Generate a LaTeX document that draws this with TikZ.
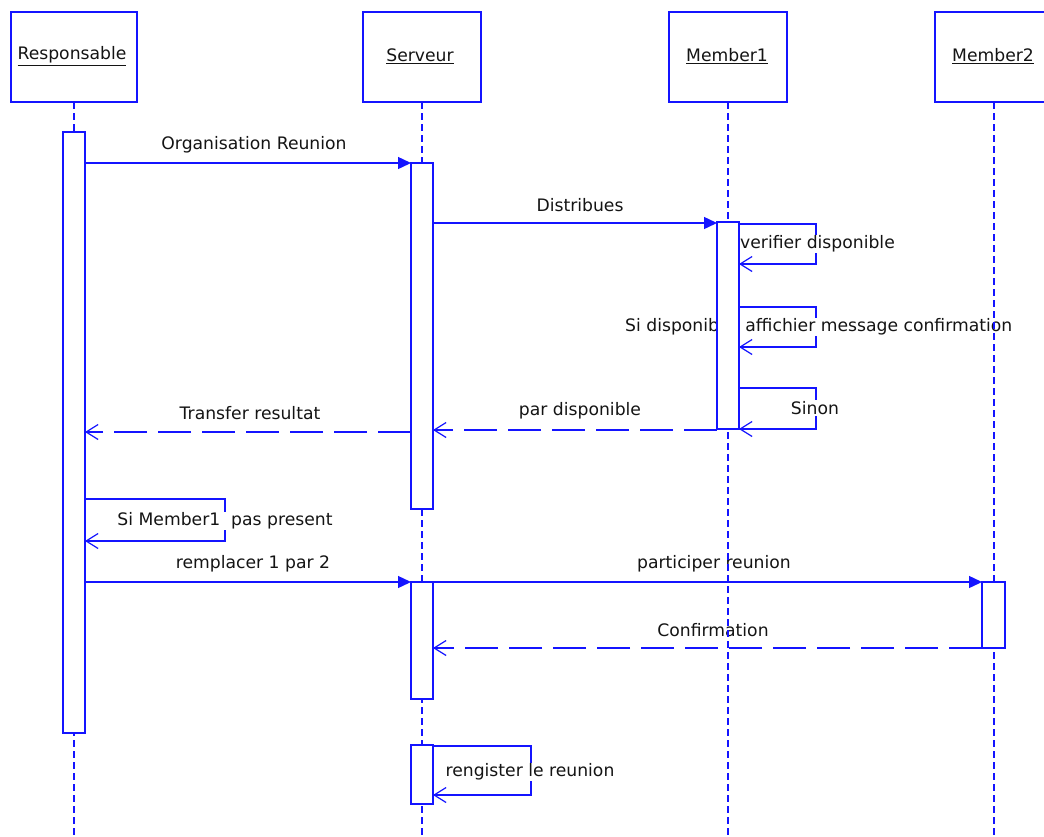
\documentclass[tikz,border=0pt]{standalone}
\usepackage{fontspec}
\setmainfont{DejaVu Sans}
\usetikzlibrary{arrows.meta}
\definecolor{umlblue}{RGB}{20,20,255}
\definecolor{umltext}{RGB}{20,20,20}
\tikzset{
  x=1pt, y=-1pt,
  every node/.style={font=\fontsize{17.2}{20}\selectfont, text=umltext},
  objbox/.style={draw=umlblue, line width=1.4pt, fill=white},
  lifeline/.style={draw=umlblue, line width=1.4pt, dash pattern=on 7pt off 4pt},
  actbar/.style={draw=umlblue, line width=1.4pt, fill=white},
  call/.style={draw=umlblue, line width=1.4pt, -{Triangle[length=13pt,width=12pt]}},
  reply/.style={draw=umlblue, line width=1.4pt, dash pattern=on 33pt off 11pt,
    -{Straight Barb[length=12pt,width=15pt,line width=1.2pt]}},
  selfcall/.style={draw=umlblue, line width=1.4pt,
    -{Straight Barb[length=12pt,width=15pt,line width=1.2pt]}},
  msglabel/.style={inner sep=1pt},
  looplabel/.style={inner sep=1pt, fill=white},
}
\begin{document}
\begin{tikzpicture}
\useasboundingbox (0,0) rectangle (1044,836);
\clip (0,0) rectangle (1044,836);
\fill[white] (0,0) rectangle (1044,836);

% object heads
\draw[objbox] (11,12) rectangle (137,102);
\draw[objbox] (363,12) rectangle (481,102);
\draw[objbox] (669,12) rectangle (787,102);
\draw[objbox] (935,12) rectangle (1053,102);
\node (resp) at (72,56) {\underline{Responsable}};
\node (serv) at (420,56) {\underline{Serveur}};
\node (mem1) at (727,56) {\underline{Member1}};
\node (mem2) at (993,56) {\underline{Member2}};

% anchor points of the lifelines
\coordinate (respTop) at (74,102);   \coordinate (respBot) at (74,836);
\coordinate (servTop) at (422,102);  \coordinate (servBot) at (422,836);
\coordinate (mem1Top) at (728,102);  \coordinate (mem1Bot) at (728,836);
\coordinate (mem2Top) at (994,102);  \coordinate (mem2Bot) at (994,836);

% message end points on the activation bars
\coordinate (m1a) at (85,163);   \coordinate (m1b) at (411,163);
\coordinate (m2a) at (433,223);  \coordinate (m2b) at (717,223);
\coordinate (m6a) at (717,430);  \coordinate (m6b) at (433,430);
\coordinate (m7a) at (411,432);  \coordinate (m7b) at (85,432);
\coordinate (m9a) at (85,582);   \coordinate (m9b) at (411,582);
\coordinate (m10a) at (433,582); \coordinate (m10b) at (982,582);
\coordinate (m11a) at (982,648); \coordinate (m11b) at (433,648);

% messages between objects
\draw[call] (m1a) -- (m1b);
\draw[call] (m2a) -- (m2b);
\draw[reply] (m6a) -- (m6b);
\draw[reply] (m7a) -- (m7b);
\draw[call] (m9a) -- (m9b);
\draw[call] (m10a) -- (m10b);
\draw[reply] (m11a) -- (m11b);

% self messages
\coordinate (s1a) at (739,224); \coordinate (s1b) at (739,264);
\draw[selfcall] (s1a) -- (816,224) -- (816,264) -- (s1b);
\coordinate (s2a) at (739,307); \coordinate (s2b) at (739,347);
\draw[selfcall] (s2a) -- (816,307) -- (816,347) -- (s2b);
\coordinate (s3a) at (739,388); \coordinate (s3b) at (739,429);
\draw[selfcall] (s3a) -- (816,388) -- (816,429) -- (s3b);
\coordinate (s4a) at (85,499); \coordinate (s4b) at (85,541);
\draw[selfcall] (s4a) -- (225,499) -- (225,541) -- (s4b);
\coordinate (s5a) at (433,746); \coordinate (s5b) at (433,795);
\draw[selfcall] (s5a) -- (531,746) -- (531,795) -- (s5b);

% message labels
\node[msglabel] (l1) at (254,145) {Organisation Reunion};
\node[msglabel] (l2) at (580,205) {Distribues};
\node[looplabel, anchor=west] (l3) at (739,244) {verifier disponible};
\node[looplabel, anchor=west] (l4) at (624,327) {Si disponible\ \ affichier message confirmation};
\node[looplabel] (l5) at (815,408) {Sinon};
\node[msglabel] (l6) at (580,411) {par disponible};
\node[msglabel] (l7) at (250,413) {Transfer resultat};
\node[looplabel] (l8) at (225,521) {Si Member1\ \ pas present};
\node[msglabel] (l9) at (253,564) {remplacer 1 par 2};
\node[msglabel] (l10) at (714,564) {participer reunion};
\node[msglabel] (l11) at (713,630) {Confirmation};
\node[looplabel] (l12) at (530,772) {rengister le reunion};

% lifelines
\draw[lifeline] (respTop) -- (respBot);
\draw[lifeline] (servTop) -- (servBot);
\draw[lifeline] (mem1Top) -- (mem1Bot);
\draw[lifeline] (mem2Top) -- (mem2Bot);

% activation bars
\draw[actbar] (63,132) rectangle (85,733);
\draw[actbar] (411,163) rectangle (433,509);
\draw[actbar] (411,582) rectangle (433,699);
\draw[actbar] (411,745) rectangle (433,804);
\draw[actbar] (717,222) rectangle (739,429);
\draw[actbar] (982,582) rectangle (1005,648);
\end{tikzpicture}
\end{document}
